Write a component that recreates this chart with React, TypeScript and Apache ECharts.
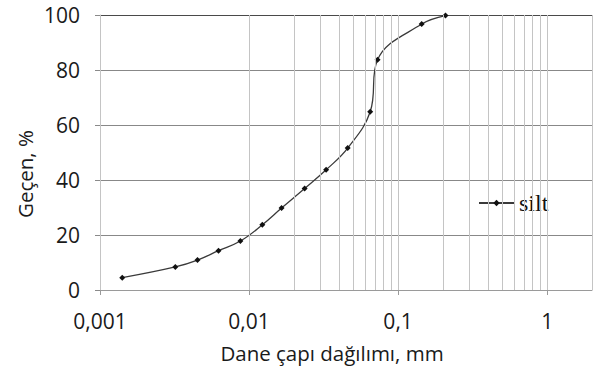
import React, { useEffect, useRef } from "react";
import * as echarts from "echarts";

// Grain size (mm) and percent passing
const diameters = [0.00141, 0.0032, 0.00451, 0.00624, 0.00875, 0.01228, 0.01653, 0.0236, 0.0329, 0.0459, 0.065, 0.0728, 0.144, 0.208];
const passing = [4.5, 8.4, 10.9, 14.3, 17.8, 23.7, 29.8, 36.9, 43.7, 51.6, 64.8, 83.7, 96.7, 99.8];

// Vertical log gridlines
const logGridValues = [
  0.001, 0.002, 0.003, 0.004, 0.005, 0.006, 0.007, 0.008, 0.009,
  0.01, 0.02, 0.03, 0.04, 0.05, 0.06, 0.07, 0.08, 0.09,
  0.1, 0.2, 0.3, 0.4, 0.5, 0.6, 0.7, 0.8, 0.9,
  1, 2,
];

const seriesName = "silt";
const xTitle = "Dane çapı dağılımı, mm";
const yTitle = "Geçen, %";

const FONT = "'Open Sans', 'Noto Sans', sans-serif";

export default function App() {
  const ref = useRef<HTMLDivElement>(null);

  useEffect(() => {
    if (!ref.current) return;
    const chart = echarts.init(ref.current, undefined, { renderer: "svg" });
    const points = diameters.map((d, i) => [d, passing[i]]);
    chart.setOption({
      animation: false,
      backgroundColor: "#ffffff",
      grid: { left: 100, top: 15, right: 1, bottom: 81, containLabel: false },
      xAxis: {
        type: "log",
        logBase: 10,
        min: 0.001,
        max: 2,
        axisLine: { show: true, lineStyle: { color: "#9a9a9a", width: 1 } },
        axisTick: { show: true, length: 5, lineStyle: { color: "#9a9a9a" } },
        splitLine: { show: false },
        axisLabel: {
          margin: 20,
          fontSize: 21,
          fontFamily: FONT,
          color: "#1a1a1a",
          showMaxLabel: false,
          formatter: (v: number) => String(Number(v.toPrecision(6))).replace(".", ","),
        },
      },
      yAxis: {
        type: "value",
        min: 0,
        max: 100,
        interval: 20,
        axisLine: { show: true, lineStyle: { color: "#c4c4c4", width: 1 } },
        axisTick: { show: true, length: 5, lineStyle: { color: "#8a8a8a" } },
        splitLine: {
          show: true,
          lineStyle: { color: ["#888888", "#888888", "#888888", "#888888", "#888888", "#4a4a4a"], width: 1 },
        },
        axisLabel: { margin: 20, fontSize: 21, fontFamily: FONT, color: "#1a1a1a" },
      },
      legend: {
        data: [seriesName],
        left: 446,
        top: 181,
        orient: "horizontal",
        backgroundColor: "#ffffff",
        padding: [10, 44, 10, 32],
        itemWidth: 35,
        itemHeight: 8,
        textStyle: { fontFamily: "'Liberation Serif', 'Times New Roman', serif", fontSize: 24, color: "#111" },
      },
      series: [
        {
          name: "grid",
          type: "line",
          data: points,
          z: 1,
          symbol: "none",
          lineStyle: { opacity: 0 },
          silent: true,
          markLine: {
            silent: true,
            symbol: "none",
            label: { show: false },
            lineStyle: { color: "#c4c4c4", width: 1, type: "solid" },
            data: logGridValues.map((v) => ({ xAxis: v })),
          },
        },
        {
          name: seriesName,
          type: "line",
          data: points,
          z: 3,
          smooth: 0.4,
          symbol: "diamond",
          symbolSize: 6,
          itemStyle: { color: "#111" },
          lineStyle: { color: "#3a3a3a", width: 1.3 },
        },
      ],
      graphic: [
        {
          type: "text",
          x: 25,
          y: 174,
          rotation: Math.PI / 2,
          style: {
            text: yTitle,
            fontSize: 20.5,
            fontFamily: FONT,
            fill: "#1a1a1a",
            textAlign: "center",
            textVerticalAlign: "middle",
          },
        },
        {
          type: "text",
          x: 332,
          y: 353,
          style: {
            text: xTitle,
            fontSize: 20.5,
            fontFamily: FONT,
            fill: "#1a1a1a",
            textAlign: "center",
            textVerticalAlign: "middle",
          },
        },
      ],
    });
    return () => chart.dispose();
  }, []);

  return (
    <div
      ref={ref}
      style={{ position: "fixed", left: 0, top: 0, width: 593, height: 371 }}
    />
  );
}
